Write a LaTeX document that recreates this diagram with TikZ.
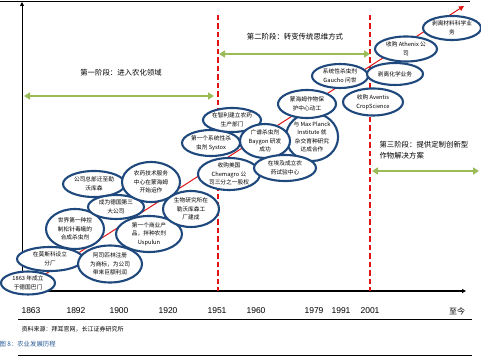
\documentclass[tikz,border=0pt]{standalone}
\usepackage{fontspec}
\setmainfont{Noto Sans CJK SC}
\newfontfamily\latinfont{Liberation Sans}
\usetikzlibrary{shapes.geometric,arrows.meta}
\definecolor{evblue}{RGB}{31,73,125}
\definecolor{phgreen}{RGB}{155,187,89}
\definecolor{dashred}{RGB}{225,20,20}
\definecolor{capblue}{RGB}{40,90,150}
\tikzset{
  ev/.style={ellipse, draw=evblue, line width=2.1pt, fill=white, inner sep=0pt,
    align=center, font=\fontsize{5.7}{8.6}\selectfont},
  phasearrow/.style={draw=phgreen, line width=2.4pt, {Triangle[width=7pt,length=6pt]}-{Triangle[width=7pt,length=6pt]}},
  divider/.style={draw=dashred, line width=1.4pt, dash pattern=on 5.5pt off 3pt},
  yearlbl/.style={font=\latinfont\fontsize{8.5}{10}\selectfont},
  phaselbl/.style={font=\fontsize{7.4}{11}\selectfont},
}
\begin{document}
\begin{tikzpicture}[x=1pt,y=-1pt]
\useasboundingbox (0,0) rectangle (481,358);
% frame lines
\coordinate (tl) at (0,1); \coordinate (tr) at (470,1);
\draw[line width=0.8pt] (tl) -- (tr);
\coordinate (o) at (22,291); \coordinate (ytop) at (22,2); \coordinate (xend) at (466,291);
\draw[line width=1pt,-{Triangle[width=4pt,length=4pt]}] (o) -- (ytop);
\draw[line width=1.2pt,-{Triangle[width=4pt,length=4pt]}] (o) -- (xend);
\coordinate (l1a) at (18,319); \coordinate (l1b) at (472,319);
\draw[line width=0.8pt] (l1a) -- (l1b);
\coordinate (l2a) at (18,355); \coordinate (l2b) at (472,355);
\draw[line width=0.8pt] (l2a) -- (l2b);
% dividers
\coordinate (d1t) at (218,15); \coordinate (d1b) at (218,291);
\coordinate (d2t) at (370,15); \coordinate (d2b) at (370,291);
\draw[divider] (d1t) -- (d1b);
\draw[divider] (d2t) -- (d2b);
% phase arrows
\coordinate (p1a) at (24,96); \coordinate (p1b) at (214,96);
\coordinate (p2a) at (219,54); \coordinate (p2b) at (370,54);
\coordinate (p3a) at (372,171); \coordinate (p3b) at (479,171);
\draw[phasearrow] (p1a) -- (p1b);
\draw[phasearrow] (p2a) -- (p2b);
\draw[phasearrow] (p3a) -- (p3b);
\node[phaselbl] (ph1) at (121,73) {第一阶段：进入农化领域};
\node[phaselbl] (ph2) at (295,37) {第二阶段：转变传统思维方式};
\node[phaselbl,anchor=west,align=left] (ph3) at (376,150) {第三阶段：提供定制创新型\\作物解决方案};
% red trend arrow
\coordinate (ra) at (44,275); \coordinate (rb) at (464,6);
\draw[dashred,line width=1pt,-{Triangle[width=5pt,length=5pt]}] (ra) -- (rb);
% events
\node[ev,minimum width=54pt,minimum height=23pt] (e1) at (28,283) {1863 年成立\\于德国巴门};
\node[ev,minimum width=66pt,minimum height=24pt] (e2) at (50,259) {在莫斯科设立\\分厂};
\node[ev,minimum width=64pt,minimum height=37pt] (e3) at (110,264) {阿司匹林注册\\为商标，为公司\\带来巨额利润};
\node[ev,minimum width=58pt,minimum height=40pt] (e4) at (75,229) {世界第一种控\\制松针毒蛾的\\合成杀虫剂};
\node[ev,minimum width=62pt,minimum height=26pt] (e5) at (94,184) {公司总部迁至勒\\沃库森};
\node[ev,minimum width=56pt,minimum height=24pt] (e6) at (116,207) {成为德国第三\\大公司};
\node[ev,minimum width=58pt,minimum height=40pt] (e7) at (151,182) {农药技术服务\\中心在蒙海姆\\开始运作};
\node[ev,minimum width=66pt,minimum height=36pt] (e8) at (149,234) {第一个商业产\\品，拌种农剂\\Uspulun};
\node[ev,minimum width=56pt,minimum height=36pt] (e9) at (191,209) {生物研究所在\\勒沃库森工\\厂建成};
\node[ev,minimum width=62pt,minimum height=32pt] (e10) at (229,174) {收购美国\\Chemagro 公\\司三分之一股权};
\node[ev,minimum width=58pt,minimum height=26pt] (e11) at (211,143) {第一个系统性杀\\虫剂 Systox};
\node[ev,minimum width=58pt,minimum height=24pt] (e12) at (232,120) {在智利建立农药\\生产部门};
\node[ev,minimum width=50pt,minimum height=48pt] (e15) at (312,137) {与 Max Planck\\Institute 就\\杂交育种研究\\达成合作};
\node[ev,minimum width=50pt,minimum height=34pt] (e13) at (265,141) {广谱杀虫剂\\Baygon 研发\\成功};
\node[ev,minimum width=62pt,minimum height=26pt] (e14) at (285,168) {在埃及成立农\\药试验中心};
\node[ev,minimum width=58pt,minimum height=28pt] (e16) at (307,104) {蒙海姆作物保\\护中心动工};
\node[ev,minimum width=56pt,minimum height=24pt] (e17) at (340,76) {系统性杀虫剂\\Gaucho 问世};
\node[ev,minimum width=60pt,minimum height=27pt] (e18) at (373,102) {收购 Aventis\\CropScience};
\node[ev,minimum width=56pt,minimum height=22pt] (e19) at (395,74) {剥离化学业务};
\node[ev,minimum width=62pt,minimum height=25pt] (e20) at (406,49) {收购 Athenix 公\\司};
\node[ev,minimum width=58pt,minimum height=24pt] (e21) at (452,28) {剥离材料科学业\\务};
% years
\node[yearlbl] (y1) at (31,311) {1863};
\node[yearlbl] (y2) at (76,311) {1892};
\node[yearlbl] (y3) at (119,311) {1900};
\node[yearlbl] (y4) at (168,311) {1920};
\node[yearlbl] (y5) at (217,311) {1951};
\node[yearlbl] (y6) at (256,311) {1960};
\node[yearlbl] (y7) at (314,311) {1979};
\node[yearlbl] (y8) at (341,311) {1991};
\node[yearlbl] (y9) at (370,311) {2001};
\node[font=\fontsize{8}{10}\selectfont] (y10) at (457,311) {至今};
% source and caption
\node[anchor=west,font=\fontsize{6}{8}\selectfont] (src) at (18,329) {资料来源：拜耳官网，长江证券研究所};
\node[anchor=west,text=capblue,font=\fontsize{6.4}{8}\selectfont] (cap) at (-4,344) {图 8：农业发展历程};
\end{tikzpicture}
\end{document}
